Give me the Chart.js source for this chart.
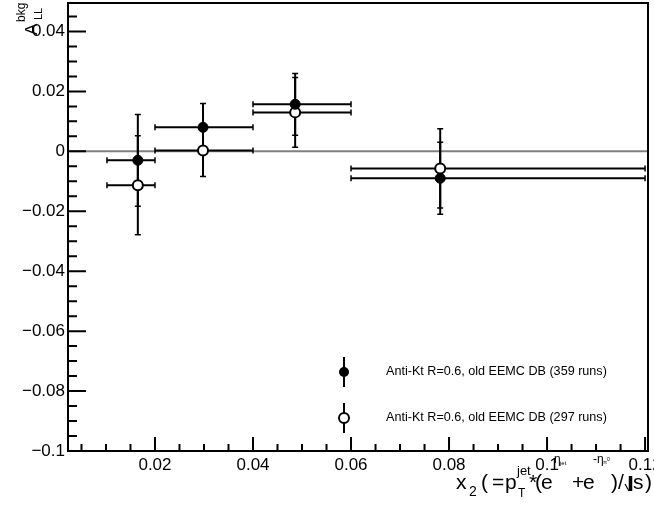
<!DOCTYPE html>
<html><head><meta charset="utf-8">
<script src="https://cdn.jsdelivr.net/npm/chart.js@4/dist/chart.umd.min.js"></script>
<style>html,body{margin:0;padding:0;background:#fff;}#wrap{width:654px;height:505px;position:relative;}</style>
</head><body><div id="wrap"><canvas id="c"></canvas></div>
<script>
// ---- data ----
const xCenters = [0.0165, 0.0298, 0.0486, 0.0782];
const xLow     = [0.0102, 0.0200, 0.0400, 0.0600];
const xHigh    = [0.0200, 0.0400, 0.0600, 0.1200];
const filledY   = [-0.0030, 0.0080, 0.0157, -0.0090];
const filledErr = [0.0153, 0.0080, 0.0103, 0.0120];
const openY     = [-0.0113, 0.0003, 0.0130, -0.0057];
const openErr   = [0.0165, 0.0087, 0.0116, 0.0132];
const seriesLabels = ["Anti-Kt R=0.6, old EEMC DB (359 runs)", "Anti-Kt R=0.6, old EEMC DB (297 runs)"];
const xTicks = [0.02, 0.04, 0.06, 0.08, 0.1, 0.12];
const xTickLabels = ["0.02", "0.04", "0.06", "0.08", "0.1", "0.12"];
const yTicks = [-0.1, -0.08, -0.06, -0.04, -0.02, 0, 0.02, 0.04];
const yTickLabels = ["\u22120.1", "\u22120.08", "\u22120.06", "\u22120.04", "\u22120.02", "0", "0.02", "0.04"];
const xRange = [0.00225, 0.1206];
const yRange = [-0.1, 0.0495];
const minorStep = 0.005;

const FONT = "'Liberation Sans', Arial, Helvetica, sans-serif";

// keep marker overflow from pushing the plot frame inward
try {
  const SC = Chart.registry.getController('scatter');
  SC.prototype.getMaxOverflow = function(){ return 0; };
} catch(e) {}

function pts(ys){ return xCenters.map((x,i)=>({x:x, y:ys[i]})); }

const errSets = [
  {y: filledY, e: filledErr},
  {y: openY, e: openErr}
];
const zeroPad = () => ({left:0, top:0, right:0, bottom:0});

const framePlugin = {
  id: 'frame',
  beforeDatasetsDraw(chart){
    const {ctx, chartArea:a, scales:{x, y}} = chart;
    ctx.save();
    ctx.strokeStyle = '#808080'; ctx.lineWidth = 2;
    const y0 = y.getPixelForValue(0);
    ctx.beginPath(); ctx.moveTo(a.left, y0); ctx.lineTo(a.right, y0); ctx.stroke();
    ctx.strokeStyle = '#000'; ctx.lineWidth = 2;
    errSets.forEach(s=>{
      xCenters.forEach((xc,i)=>{
        const px = x.getPixelForValue(xc);
        const py = y.getPixelForValue(s.y[i]);
        const xl = x.getPixelForValue(xLow[i]), xh = x.getPixelForValue(xHigh[i]);
        const yt = y.getPixelForValue(s.y[i]+s.e[i]), yb = y.getPixelForValue(s.y[i]-s.e[i]);
        ctx.lineWidth = 2;
        ctx.beginPath();
        ctx.moveTo(xl, py); ctx.lineTo(xh, py);
        ctx.moveTo(px, yt); ctx.lineTo(px, yb);
        ctx.stroke();
        ctx.lineWidth = 1.5;
        ctx.beginPath();
        ctx.moveTo(xl, py-3); ctx.lineTo(xl, py+3);
        ctx.moveTo(xh, py-3); ctx.lineTo(xh, py+3);
        ctx.moveTo(px-3, yt); ctx.lineTo(px+3, yt);
        ctx.moveTo(px-3, yb); ctx.lineTo(px+3, yb);
        ctx.stroke();
      });
    });
    ctx.restore();
  },
  afterDatasetsDraw(chart){
    const {ctx, chartArea:a, scales:{x, y}} = chart;
    ctx.save();
    ctx.strokeStyle = '#000';
    ctx.lineWidth = 2;
    ctx.strokeRect(a.left, a.top, a.right-a.left, a.bottom-a.top);
    ctx.beginPath();
    for (let v = Math.ceil(xRange[0]/minorStep)*minorStep; v <= xRange[1]+1e-9; v += minorStep){
      const vv = Math.round(v*1000)/1000;
      const major = Math.abs(vv/0.02 - Math.round(vv/0.02)) < 1e-6;
      const px = x.getPixelForValue(vv);
      ctx.moveTo(px, a.bottom); ctx.lineTo(px, a.bottom - (major ? 14 : 7));
    }
    for (let v = yRange[0]; v <= yRange[1]+1e-9; v += minorStep){
      const vv = Math.round(v*1000)/1000;
      const major = Math.abs(vv/0.02 - Math.round(vv/0.02)) < 1e-6;
      const py = y.getPixelForValue(vv);
      ctx.moveTo(a.left, py); ctx.lineTo(a.left + (major ? 18 : 9), py);
    }
    ctx.stroke();

    // legend
    const lx = 344, ly = [372, 418];
    ctx.font = '12.6px ' + FONT;
    ctx.fillStyle = '#000';
    ctx.textBaseline = 'middle';
    ly.forEach((yy, k)=>{
      ctx.lineWidth = 2;
      ctx.beginPath(); ctx.moveTo(lx, yy-15); ctx.lineTo(lx, yy+15); ctx.stroke();
      ctx.beginPath(); ctx.arc(lx, yy, 5, 0, Math.PI*2);
      if (k === 0){ ctx.fillStyle='#000'; ctx.fill(); }
      else { ctx.fillStyle='#fff'; ctx.fill(); ctx.stroke(); }
      ctx.fillStyle = '#000';
      ctx.fillText(seriesLabels[k], 386, yy);
    });

    // y title: A^{bkg}_{LL}
    ctx.save();
    ctx.translate(37, 35);
    ctx.rotate(-Math.PI/2);
    ctx.textBaseline = 'alphabetic';
    ctx.font = '17px ' + FONT;
    ctx.fillText('A', 0, 0);
    ctx.font = '12px ' + FONT;
    ctx.fillText('bkg', 13, -12);
    ctx.font = '11px ' + FONT;
    ctx.fillText('LL', 15, 5);
    ctx.restore();

    // x title
    ctx.textBaseline = 'alphabetic';
    const B = 489;
    const t = (s, px, py, size) => { ctx.font = size + 'px ' + FONT; ctx.fillText(s, px, py); };
    t('x', 456, B, 21);
    t('2', 469, B+7, 14);
    t('(', 481, B, 21);
    t('=', 492, B, 21);
    t('p', 505, B, 21);
    t('jet', 517, B-14, 13);
    t('T', 518, B+8, 12);
    t('*', 529, B, 21);
    t('(', 535, B, 21);
    t('e', 541, B, 21);
    t('\u03b7', 554, B-26, 12);
    t('jet', 560, B-24, 6);
    t('+', 572, B, 21);
    t('e', 583, B, 21);
    t('-\u03b7', 593, B-26, 12);
    t('\u03c0', 603, B-25, 6);
    t('0', 607, B-28, 5);
    t(')', 611, B, 21);
    t('/', 618, B, 21);
    ctx.strokeStyle = '#000';
    ctx.lineWidth = 1.2;
    ctx.beginPath(); ctx.moveTo(625, B-5); ctx.lineTo(629, B+2); ctx.stroke();
    ctx.lineWidth = 3.5;
    ctx.beginPath(); ctx.moveTo(630.5, B-13); ctx.lineTo(630.5, B+2); ctx.stroke();
    t('s', 633, B, 21);
    t(')', 645, B, 21);
    ctx.restore();
  }
};

new Chart(document.getElementById('c'), {
  type: 'scatter',
  data: {
    datasets: [
      { label: seriesLabels[0], data: pts(filledY), pointRadius: 5, pointHoverRadius: 5,
        pointBackgroundColor: '#000', pointBorderColor: '#000', pointBorderWidth: 1, showLine: false, clip: false },
      { label: seriesLabels[1], data: pts(openY), pointRadius: 5, pointHoverRadius: 5,
        pointBackgroundColor: '#fff', pointBorderColor: '#000', pointBorderWidth: 2, showLine: false, clip: false }
    ]
  },
  options: {
    responsive: true, maintainAspectRatio: false, animation: false,
    devicePixelRatio: 1,
    layout: { padding: { top: 3, right: 6, left: 0, bottom: 0 } },
    plugins: { legend: { display: false }, tooltip: { enabled: false } },
    scales: {
      x: {
        type: 'linear', min: xRange[0], max: xRange[1],
        grid: { display: false, drawTicks: false },
        border: { display: false },
        afterBuildTicks: s => { s.ticks = xTicks.map(v=>({value:v})); },
        ticks: { autoSkip: false, maxRotation: 0, minRotation: 0, padding: 4, color: '#000',
          font: { family: FONT, size: 17 },
          callback: (v, i) => xTickLabels[i] },
        afterFit: s => { s.height = 54; s.paddingLeft = 0; s.paddingRight = 0; s.paddingTop = 0; s.paddingBottom = 0; s.getPadding = zeroPad; }
      },
      y: {
        type: 'linear', min: yRange[0], max: yRange[1],
        grid: { display: false, drawTicks: false },
        border: { display: false },
        afterBuildTicks: s => { s.ticks = yTicks.map(v=>({value:v})); },
        ticks: { autoSkip: false, padding: 3, color: '#000',
          font: { family: FONT, size: 17 },
          callback: (v, i) => yTickLabels[i] },
        afterFit: s => { s.width = 68; s.paddingTop = 0; s.paddingBottom = 0; s.paddingLeft = 0; s.paddingRight = 0; s.getPadding = zeroPad; }
      }
    }
  },
  plugins: [framePlugin]
});
</script></body></html>
